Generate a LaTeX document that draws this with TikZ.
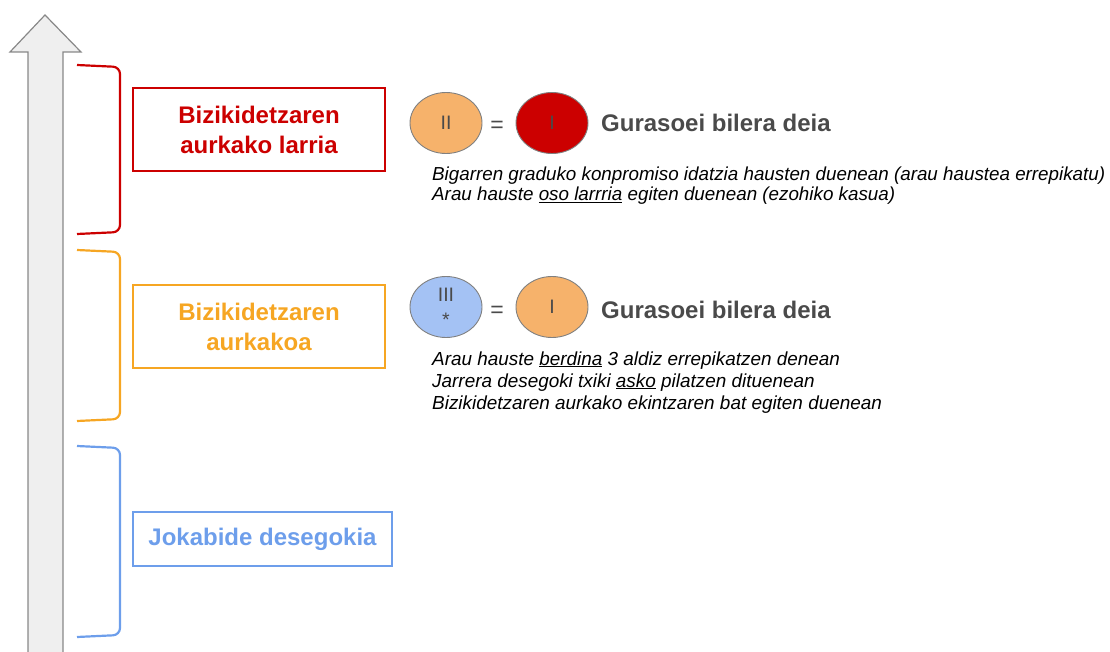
\documentclass[tikz,border=0pt]{standalone}
\usepackage{fontspec}
\setmainfont{Liberation Sans}
\usetikzlibrary{shapes.geometric}
\definecolor{cred}{HTML}{CC0000}
\definecolor{corange}{HTML}{F6A623}
\definecolor{cblue}{HTML}{6D9EEB}
\definecolor{eorange}{HTML}{F6B26B}
\definecolor{eblue}{HTML}{A4C2F4}
\definecolor{dgray}{HTML}{4A4A4A}
\definecolor{agray}{HTML}{888888}
\definecolor{afill}{HTML}{EFEFEF}
\tikzset{
  levelbox/.style={draw, line width=2.2pt, minimum width=252pt, minimum height=83pt, align=center, font=\fontsize{24}{30}\selectfont\bfseries, inner sep=0pt},
  bracket/.style={line width=2.2pt, rounded corners=7pt},
  oval/.style={ellipse, draw=dgray!70, line width=0.9pt, minimum width=72pt, minimum height=61pt, inner sep=0pt, font=\fontsize{19.5}{21}\selectfont, text=dgray, align=center},
  eqsign/.style={font=\fontsize{23}{25}\selectfont, text=dgray},
  title/.style={anchor=base west, font=\fontsize{24}{27}\selectfont\bfseries, text=dgray, inner sep=0pt},
  desc/.style={anchor=base west, align=left, font=\fontsize{18.9}{22}\selectfont\itshape, inner sep=0pt}
}
\begin{document}
\begin{tikzpicture}[x=1pt,y=-1pt]
\useasboundingbox (0,0) rectangle (1110,652);
% big arrow
\draw[draw=agray, fill=afill, line width=1.2pt] (28,662) -- (28,52) -- (10,52) -- (45,15) -- (81,52) -- (63,52) -- (63,662);
% brackets
\draw[bracket, cred] (77,65) -- (120,67) -- (120,232) -- (77,234);
\draw[bracket, corange] (77,250) -- (120,252) -- (120,419) -- (77,421);
\draw[bracket, cblue] (77,446) -- (120,448) -- (120,635) -- (77,637);
% level boxes
\node[levelbox, draw=cred, text=cred] (b1) at (259,129.5) {Bizikidetzaren\\aurkako larria};
\node[levelbox, draw=corange, text=corange] (b2) at (259,326.5) {Bizikidetzaren\\aurkakoa};
\node[levelbox, draw=cblue, text=cblue, minimum width=259pt, minimum height=54pt] (b3) at (262.5,539) {Jokabide desegokia};
% row 1
\node[oval, fill=eorange] (e1) at (446,123) {II};
\node[eqsign] (q1) at (497,127) {=};
\node[oval, fill=cred] (e2) at (552,123) {I};
\node[title] (t1) at (601,132) {Gurasoei bilera deia};
\node[desc, font=\fontsize{18.8}{20}\selectfont\itshape] (d1) at (432,201) {Bigarren graduko konpromiso idatzia hausten duenean (arau haustea errepikatu)\\Arau hauste \underline{oso larrria} egiten duenean (ezohiko kasua)};
% row 2
\node[oval, fill=eblue, font=\fontsize{19.5}{25}\selectfont] (e3) at (446,307) {III\\*};
\node[eqsign] (q2) at (497,312) {=};
\node[oval, fill=eorange] (e4) at (552,307) {I};
\node[title] (t2) at (601,318) {Gurasoei bilera deia};
\node[desc] (d2) at (432,409) {Arau hauste \underline{berdina} 3 aldiz errepikatzen denean\\Jarrera desegoki txiki \underline{asko} pilatzen dituenean\\Bizikidetzaren aurkako ekintzaren bat egiten duenean};
\end{tikzpicture}
\end{document}
